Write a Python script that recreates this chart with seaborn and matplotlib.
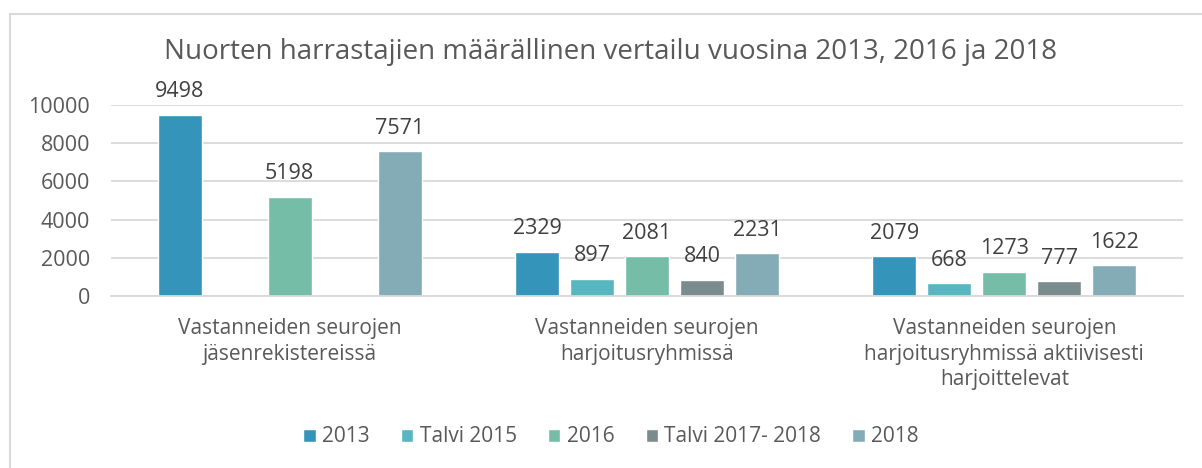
import pandas as pd
import numpy as np
import seaborn as sns
import matplotlib.pyplot as plt
from matplotlib.lines import Line2D

categories = ['Vastanneiden seurojen\njäsenrekistereissä',
              'Vastanneiden seurojen\nharjoitusryhmissä',
              'Vastanneiden seurojen\nharjoitusryhmissä aktiivisesti\nharjoittelevat']
series = ['2013', 'Talvi 2015', '2016', 'Talvi 2017- 2018', '2018']
v_2013 = [9498, 2329, 2079]
v_talvi_2015 = [np.nan, 897, 668]
v_2016 = [5198, 2081, 1273]
v_talvi_2017 = [np.nan, 840, 777]
v_2018 = [7571, 2231, 1622]
colors = ['#3494BA', '#58B6C0', '#75BDA7', '#7A8C8E', '#84ACB6']

values = [v_2013, v_talvi_2015, v_2016, v_talvi_2017, v_2018]
rows = []
for s, vals in zip(series, values):
    for c, v in zip(categories, vals):
        rows.append({'kategoria': c, 'sarja': s, 'arvo': v})
df = pd.DataFrame(rows)

sns.set_style('white')
plt.rcParams['font.family'] = ['Open Sans', 'DejaVu Sans']
text_col = '#595959'

fig = plt.figure(figsize=(12.02, 4.68), dpi=100)
ax = fig.add_axes([111 / 1202, 1 - 296 / 468, 1072 / 1202, 191 / 468])

sns.barplot(data=df.dropna(), x='kategoria', y='arvo', hue='sarja', order=categories,
            hue_order=series, palette=colors, width=0.77, gap=0.2, ax=ax,
            errorbar=None, saturation=1, legend=True)

for cont in ax.containers:
    ax.bar_label(cont, fmt='%d', padding=9, fontsize=15.5, color='#404040')

ax.set_ylim(0, 10000)
ax.set_xlim(-0.5, 2.5)
ax.set_yticks(np.arange(0, 10001, 2000))
ax.yaxis.grid(True, color='#D9D9D9', linewidth=1.3)
ax.set_axisbelow(True)
for sp in ['top', 'right', 'left']:
    ax.spines[sp].set_visible(False)
ax.spines['bottom'].set_color('#D9D9D9')
ax.spines['bottom'].set_linewidth(1.3)
ax.tick_params(axis='y', labelsize=15.5, labelcolor=text_col, length=0, pad=15)
ax.tick_params(axis='x', labelsize=15, labelcolor=text_col, length=0, pad=16)
for lab in ax.get_xticklabels():
    lab.set_linespacing(1.28)
ax.set_xlabel('')
ax.set_ylabel('')

ax.legend(loc='center', bbox_to_anchor=(611 / 1202, 1 - 437 / 468), bbox_transform=fig.transFigure,
          ncol=5, frameon=False, fontsize=15, labelcolor=text_col, handlelength=0.6,
          handleheight=0.6, handletextpad=0.3, columnspacing=1.5)

fig.text(611 / 1202, 1 - 52 / 468, 'Nuorten harrastajien määrällinen vertailu vuosina 2013, 2016 ja 2018',
         ha='center', va='center', fontsize=20, color=text_col)

fig.add_artist(Line2D([10 / 1202, 10 / 1202], [0, 1 - 14 / 468], transform=fig.transFigure,
                      color='#D9D9D9', linewidth=1.5))
fig.add_artist(Line2D([10 / 1202, 1], [1 - 14 / 468, 1 - 14 / 468], transform=fig.transFigure,
                      color='#D9D9D9', linewidth=1.5))

fig.savefig('out.png', dpi=100)
